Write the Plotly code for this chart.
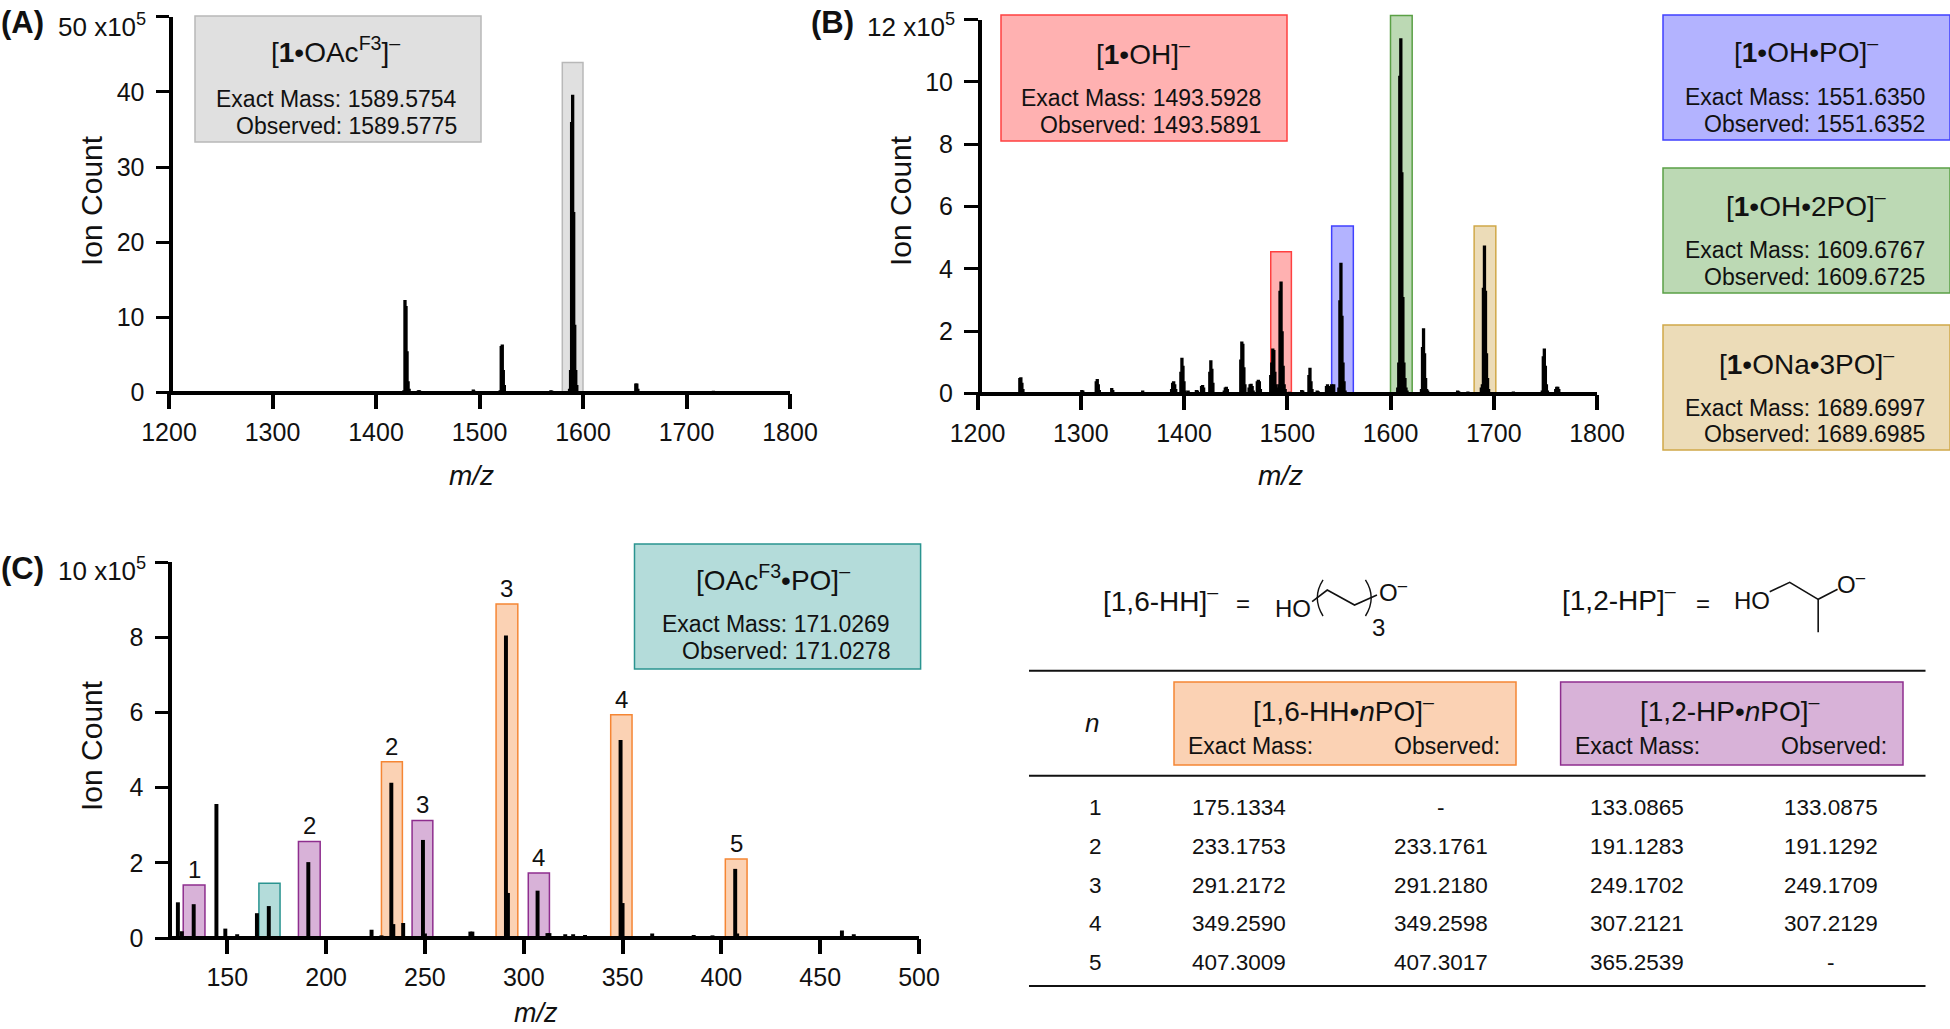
import plotly.graph_objects as go

W, H = 1950, 1029
FONT = "Liberation Sans"

# ---------- data ----------
a_mz = [1257, 1427, 1428, 1429, 1430, 1431, 1432, 1441, 1442, 1494, 1495, 1520, 1521, 1522, 1523, 1524, 1540,
        1569, 1570, 1587, 1588, 1589, 1590, 1591, 1592, 1593, 1594, 1651, 1652, 1653, 1654, 1726]
a_int = [0.1, 0.3, 12.3, 11.5, 5.5, 1.5, 0.5, 0.3, 0.3, 0.4, 0.2, 0.3, 6.2, 6.4, 3.0, 1.0, 0.1,
         0.3, 0.2, 0.5, 3.0, 36.0, 39.6, 24.0, 9.0, 3.0, 1.0, 1.2, 1.2, 0.5, 0.1, 0.15]

b_mz = [1241, 1242, 1243, 1244, 1245, 1301, 1302, 1315, 1316, 1317, 1318, 1330, 1331, 1360, 1388, 1389, 1390, 1391, 1392,
        1397, 1398, 1399, 1400, 1401, 1404, 1412, 1413, 1417, 1418, 1419, 1425, 1426, 1427, 1428,
        1439, 1440, 1441, 1442, 1455, 1456, 1457, 1458, 1459, 1463, 1464, 1465, 1466, 1467,
        1471, 1472, 1473, 1474, 1484, 1485, 1486, 1487, 1488, 1489, 1490, 1492, 1493, 1494, 1495, 1496, 1497, 1498, 1502,
        1514, 1515, 1521, 1522, 1523, 1524, 1529, 1530, 1538, 1539, 1540, 1543, 1544, 1545,
        1550, 1551, 1552, 1553, 1554, 1555, 1556, 1595, 1607, 1608, 1609, 1610, 1611, 1612, 1613, 1614, 1615, 1616,
        1630, 1631, 1632, 1633, 1634, 1635, 1636, 1665, 1666, 1675, 1688, 1689, 1690, 1691, 1692, 1693, 1694, 1695,
        1719, 1747, 1748, 1749, 1750, 1751, 1752, 1760, 1761, 1762, 1763, 1764]
b_int = [0.5, 0.53, 0.35, 0.15, 0.05, 0.12, 0.1, 0.4, 0.47, 0.3, 0.12, 0.18, 0.12, 0.1, 0.15, 0.35, 0.4, 0.3, 0.15,
         0.7, 1.15, 0.9, 0.4, 0.1, 0.1, 0.12, 0.1, 0.25, 0.28, 0.2, 0.7, 1.07, 0.8, 0.35,
         0.1, 0.2, 0.22, 0.15, 1.1, 1.67, 1.6, 0.85, 0.3, 0.2, 0.3, 0.32, 0.25, 0.1,
         0.4, 0.45, 0.4, 0.15, 0.6, 1.0, 1.45, 1.4, 0.7, 0.3, 0.2, 0.3, 3.3, 3.6, 2.0, 0.9, 0.3, 0.15, 0.06,
         0.12, 0.1, 0.6, 0.83, 0.4, 0.15, 0.1, 0.08, 0.25, 0.3, 0.25, 0.3, 0.25, 0.3,
         0.2, 3.0, 4.2, 2.5, 1.0, 0.4, 0.1, 0.05, 0.2, 1.0, 10.2, 11.4, 7.1, 3.1, 1.0, 0.5, 0.2, 0.1,
         0.15, 1.5, 2.1, 1.3, 0.5, 0.15, 0.1, 0.1, 0.08, 0.07, 0.2, 0.3, 3.4, 4.75, 3.3, 1.3, 0.5, 0.15,
         0.07, 0.1, 1.2, 1.45, 0.9, 0.3, 0.1, 0.15, 0.22, 0.22, 0.15, 0.05]

c_mz = [125, 127, 133, 144.5, 149, 155, 165, 171, 191, 223, 228, 233, 234, 239, 249, 250, 263, 273, 274, 291, 292,
        307, 312, 313, 321, 325, 331, 349, 350, 365, 386, 388, 395.5, 407, 408, 409, 423, 453, 461, 465, 467]
c_int = [0.95, 0.18, 0.9, 3.57, 0.25, 0.1, 0.66, 0.85, 2.02, 0.22, 0.07, 4.13, 0.37, 0.4, 2.61, 0.12, 0.05, 0.17, 0.17,
         8.05, 1.2, 1.26, 0.13, 0.13, 0.1, 0.1, 0.08, 5.27, 0.93, 0.12, 0.08, 0.04, 0.07, 1.84, 0.12, 0.05, 0.03, 0.03,
         0.2, 0.04, 0.1]

a_hl_left, a_hl_right, a_hl_top = [1580], [1600], [43.9]
b_hl_left = [1484, 1543, 1600, 1681]
b_hl_right = [1504, 1564, 1621, 1702]
b_hl_top = [4.55, 5.38, 12.13, 5.38]
c_hl_left = [127.7, 166, 186, 228, 243.5, 286, 302.3, 344, 402]
c_hl_right = [138.7, 176.7, 197, 238.6, 254, 297, 313, 354.8, 413]
c_hl_top = [1.41, 1.46, 2.57, 4.69, 3.13, 8.89, 1.73, 5.94, 2.1]
c_hl_kind = ["p", "t", "p", "o", "p", "o", "p", "o", "o"]
c_hl_label = ["1", "", "2", "2", "3", "3", "4", "4", "5"]

table_n = ["1", "2", "3", "4", "5"]
hh_exact = ["175.1334", "233.1753", "291.2172", "349.2590", "407.3009"]
hh_obs = ["-", "233.1761", "291.2180", "349.2598", "407.3017"]
hp_exact = ["133.0865", "191.1283", "249.1702", "307.2121", "365.2539"]
hp_obs = ["133.0875", "191.1292", "249.1709", "307.2129", "-"]

# ---------- colours ----------
FILL = dict(g="#e0e0e0", r="#ffb1b1", b="#b3b3ff", v="#bcd9b4", y="#ecdcb8", t="#b4dcda", o="#fbd2b4", p="#d8b2d8")
EDGE = dict(g="#b8b8b8", r="#ff4040", b="#4040ff", v="#5aa045", y="#d0a848", t="#2a9490", o="#f58634", p="#8e2e8e")

fig = go.Figure()


def px(x):
    return x / W


def py(y):
    return 1 - y / H


def text(x, y, s, size=23, anchor="center", color="#111111", angle=0):
    fig.add_annotation(x=px(x), y=py(y), xref="paper", yref="paper", text=s, showarrow=False,
                       xanchor=anchor, yanchor="middle", textangle=angle,
                       font=dict(family=FONT, size=size, color=color))


def box(x0, y0, x1, y1, k):
    fig.add_shape(type="rect", xref="paper", yref="paper", x0=px(x0), x1=px(x1), y0=py(y0), y1=py(y1),
                  fillcolor=FILL[k], line=dict(color=EDGE[k], width=1.5), layer="below")


def seg(pts, width=1.6):
    d = "M " + " L ".join(f"{px(x):.5f},{py(y):.5f}" for x, y in pts)
    fig.add_shape(type="path", xref="paper", yref="paper", path=d, line=dict(color="#111111", width=width))


def curve(a, c, b, width=1.4):
    d = f"M {px(a[0]):.5f},{py(a[1]):.5f} Q {px(c[0]):.5f},{py(c[1]):.5f} {px(b[0]):.5f},{py(b[1]):.5f}"
    fig.add_shape(type="path", xref="paper", yref="paper", path=d, line=dict(color="#111111", width=width))


def zx(v):
    return v / 1.65 + 1000


def zy(v):
    return v / 3 + 540


def panel(idx, mz, inten, bw, l, r, t, b, xr, xticks, yr, yticks, ytext):
    sfx = "" if idx == 1 else str(idx)
    fig.add_trace(go.Bar(x=mz, y=inten, width=bw, marker=dict(color="black", line=dict(width=0)),
                         xaxis="x" + sfx, yaxis="y" + sfx, showlegend=False))
    common = dict(ticks="outside", tickcolor="black", showgrid=False, automargin=False, ticklabeloverflow="allow",
                  tickfont=dict(family=FONT, size=25, color="#111111"))
    fig.layout["xaxis" + sfx] = dict(domain=[px(l), px(r)], range=xr, tickmode="array", tickvals=xticks,
                                     ticktext=[str(v) for v in xticks], showline=False, zeroline=False,
                                     ticklen=15, tickwidth=4, ticklabelstandoff=2, anchor="y" + sfx, **common)
    fig.layout["yaxis" + sfx] = dict(domain=[py(b), py(t)], range=yr, tickmode="array", tickvals=yticks,
                                     ticktext=ytext, showline=True, linecolor="black", linewidth=4,
                                     zeroline=True, zerolinecolor="black", zerolinewidth=4,
                                     ticklen=13.5, tickwidth=3, ticklabelstandoff=6,
                                     anchor="free", position=px(l + 2), **common)


a_yt = [0, 10, 20, 30, 40, 50]
b_yt = [0, 2, 4, 6, 8, 10, 12]
c_yt = [0, 2, 4, 6, 8, 10]
B_TOP, B_BOTTOM = 19.5, 393.7
# the top tick of each axis carries its exponent and sits a little below the tick, so it is written separately
panel(1, a_mz, a_int, 3.2, 169, 790, 16.7, 392.5, [1200, 1800], list(range(1200, 1801, 100)), [0, 50], a_yt,
      ["0", "10", "20", "30", "40", " "])
panel(2, b_mz, b_int, 3.2, 977.5, 1597, B_TOP, B_BOTTOM, [1200, 1800], list(range(1200, 1801, 100)), [0, 12], b_yt,
      ["0", "2", "4", "6", "8", "10", " "])
panel(3, c_mz, c_int, 2.0, 168, 919, 562.3, 938, [120, 500], list(range(150, 501, 50)), [0, 10], c_yt,
      ["0", "2", "4", "6", "8", " "])
fig.update_layout(barmode="overlay")
text(148, 25, "50 x10<sup>5</sup>", 26, "right")
text(957, 26, "12 x10<sup>5</sup>", 26, "right")
text(147.5, 569, "10 x10<sup>5</sup>", 26, "right")


def highlight(sfx, x0, x1, top, kind, ymax=None, dom=None):
    if ymax is not None and top > ymax:
        # a band that rises past the axis end would be clipped: place its height against the page
        scale = (dom[1] - dom[0]) / ymax
        fig.add_shape(type="rect", xref="x" + sfx, yref="paper", x0=x0, x1=x1, y0=py(dom[1]),
                      y1=py(dom[1] - top * scale), fillcolor=FILL[kind],
                      line=dict(color=EDGE[kind], width=1.5), layer="below")
        return
    fig.add_shape(type="rect", xref="x" + sfx, yref="y" + sfx, x0=x0, x1=x1, y0=0, y1=top,
                  fillcolor=FILL[kind], line=dict(color=EDGE[kind], width=1.5), layer="below")


for x0, x1, tp in zip(a_hl_left, a_hl_right, a_hl_top):
    highlight("", x0, x1, tp, "g")
for x0, x1, tp, k in zip(b_hl_left, b_hl_right, b_hl_top, "rbvy"):
    highlight("2", x0, x1, tp, k, 12, (B_TOP, B_BOTTOM))
for x0, x1, tp, k, lab in zip(c_hl_left, c_hl_right, c_hl_top, c_hl_kind, c_hl_label):
    highlight("3", x0, x1, tp, k)
    if lab:
        fig.add_annotation(x=(x0 + x1) / 2, y=tp, xref="x3", yref="y3", text=lab, showarrow=False, yanchor="bottom",
                           font=dict(family=FONT, size=24, color="#111111"))

# ---------- panel furniture ----------
text(-1, 23, "<b>(A)</b>", 31, "left")
text(809, 23, "<b>(B)</b>", 31, "left")
text(-1, 568, "<b>(C)</b>", 31, "left")
text(92, 201, "Ion Count", 30, angle=-90)
text(901, 201, "Ion Count", 30, angle=-90)
text(91, 746, "Ion Count", 30, angle=-90)
text(471, 475, "<i>m/z</i>", 28)
text(1280, 475, "<i>m/z</i>", 28)
text(536, 1013, "<i>m/z</i>", 27)


def info(x0, y0, x1, y1, k, title, tx, ty, exact, obs, rx, ry1, ry2):
    box(x0, y0, x1, y1, k)
    text(tx, ty, title, 28)
    text(rx, ry1, "Exact Mass: " + exact, 23, "right")
    text(rx, ry2, "Observed: " + obs, 23, "right")


info(195, 16, 481, 142, "g", "[<b>1</b>•OAc<sup>F3</sup>]<sup>–</sup>", 335, 50, "1589.5754", "1589.5775", 459, 99, 126)
info(1001, 15, 1287, 141, "r", "[<b>1</b>•OH]<sup>–</sup>", 1143, 52, "1493.5928", "1493.5891", 1263, 98, 125)
info(1663, 15, 1950, 140, "b", "[<b>1</b>•OH•PO]<sup>–</sup>", 1806, 50, "1551.6350", "1551.6352", 1927, 97, 124)
info(1663, 168, 1950, 293, "v", "[<b>1</b>•OH•2PO]<sup>–</sup>", 1806, 204, "1609.6767", "1609.6725", 1927, 250, 277)
info(1663, 325, 1950, 450, "y", "[<b>1</b>•ONa•3PO]<sup>–</sup>", 1806, 362, "1689.6997", "1689.6985", 1927, 408, 434)
info(634.5, 544, 920.6, 669, "t", "[OAc<sup>F3</sup>•PO]<sup>–</sup>", 773, 578, "171.0269", "171.0278", 892, 624, 651)

# ---------- table ----------
for y in (670.7, 775.7, 986):
    seg([(1029, y), (1925.5, y)], 2)
box(1174, 682, 1516, 765, "o")
box(1560.6, 682, 1903, 765, "p")
text(1092, 723, "<i>n</i>", 26)
text(1343.6, 709, "[1,6-HH•<i>n</i>PO]<sup>–</sup>", 28)
text(1730, 709, "[1,2-HP•<i>n</i>PO]<sup>–</sup>", 28)
text(1186, 745.7, "Exact Mass:", 23, "left")
text(1502, 745.7, "Observed:", 23, "right")
text(1573, 745.7, "Exact Mass:", 23, "left")
text(1889, 745.7, "Observed:", 23, "right")
for y, n, a, b, c, d in zip((807, 846, 885, 923, 962), table_n, hh_exact, hh_obs, hp_exact, hp_obs):
    text(1095, y, n, 22.5)
    text(1239, y, a, 22.5)
    text(1441, y, b, 22.5)
    text(1637, y, c, 22.5)
    text(1831, y, d, 22.5)

# ---------- structures ----------
text(1160, 599, "[1,6-HH]<sup>–</sup>", 28)
text(1243, 603, "=", 24)
text(1293, 608, "HO", 24)
seg([(zx(515), zy(185)), (zx(540), zy(150)), (zx(585), zy(195)), (zx(622), zy(165))])
curve((zx(533), zy(120)), (zx(514), zy(174)), (zx(533), zy(228)))
curve((zx(603), zy(120)), (zx(622), zy(174)), (zx(603), zy(228)))
text(1393, 591, "O<sup>–</sup>", 24)
text(1378, 627, "3", 24)

text(1619, 598, "[1,2-HP]<sup>–</sup>", 28)
text(1703, 603, "=", 24)
text(1751.5, 600, "HO", 24)
seg([(zx(1270), zy(155)), (zx(1303), zy(127)), (zx(1350), zy(178)), (zx(1382), zy(148))])
seg([(zx(1350), zy(178)), (zx(1350), zy(277))])
text(1851.5, 583, "O<sup>–</sup>", 24)

fig.update_layout(width=W, height=H, margin=dict(l=0, r=0, t=0, b=0, autoexpand=False), paper_bgcolor="white",
                  plot_bgcolor="rgba(0,0,0,0)", font=dict(family=FONT))
fig.write_html("out.html", config=dict(displayModeBar=False),
               post_script="document.body.style.margin='0';document.body.style.overflow='hidden';")
